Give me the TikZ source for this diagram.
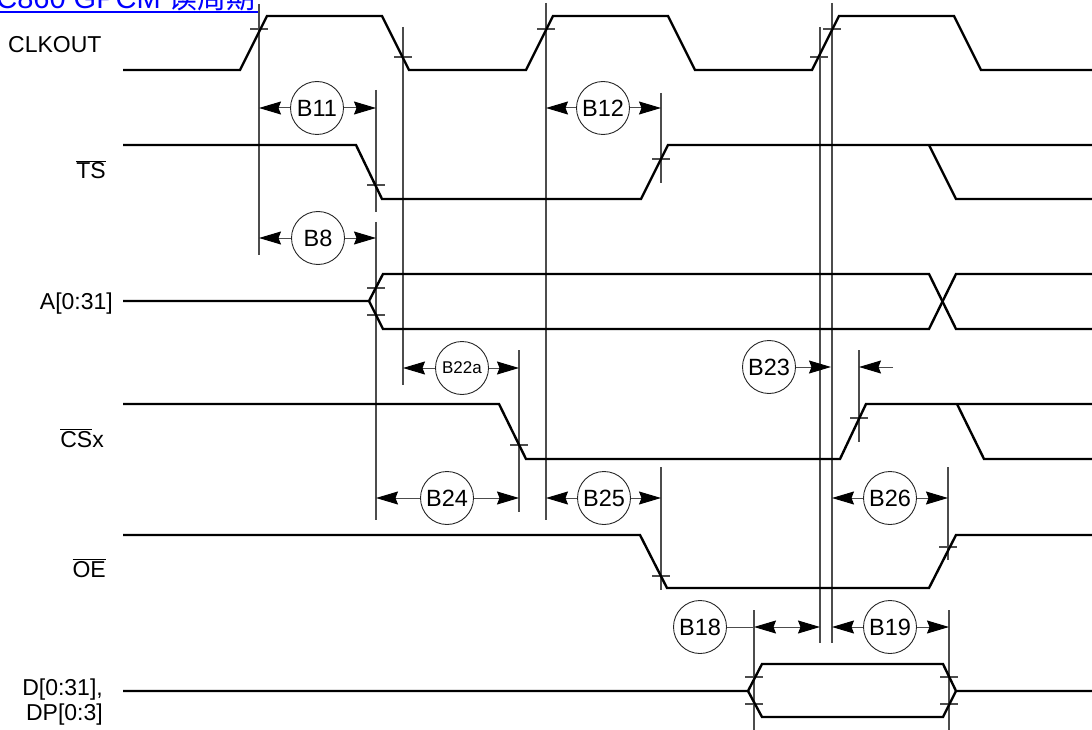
\documentclass[tikz,border=0pt]{standalone}
\usepackage{fontspec}
\setmainfont{Liberation Sans}
\newfontfamily\cjk{Noto Sans CJK SC}
\usetikzlibrary{arrows.meta}
\newcommand\ovl[1]{$\overline{\mbox{#1}}$}
\begin{document}
\begin{tikzpicture}[x=1pt,y=-1pt,
  sig/.style={line width=2.4pt, line join=miter},
  guide/.style={draw=black!70, line width=1.1pt},
  lab/.style={inner sep=0pt, font=\fontsize{23}{27}\selectfont},
  tag/.style={circle, draw=black!85, line width=0.9pt, minimum size=53pt, inner sep=0pt, font=\fontsize{23.5}{27}\selectfont},
  arr/.style={draw=black!70, line width=1pt, -{Stealth[length=22pt,width=13pt,inset=2.5pt,color=black]}},
  darr/.style={draw=black!70, line width=1pt, {Stealth[length=22pt,width=13pt,inset=2.5pt,color=black]}-{Stealth[length=22pt,width=13pt,inset=2.5pt,color=black]}},
  thin/.style={draw=black!70, line width=1pt},
]
\useasboundingbox (0,0) rectangle (1092,730);

% title (cut at the top)
\node[anchor=base east, inner sep=0pt, text=blue, font=\fontsize{29}{30}\selectfont] (title) at (256,9) {MPC860 GPCM {\cjk 读周期}};
\draw[blue, line width=2pt] (0,12) -- (258,12);

% signal labels
\node[lab, anchor=base west] (lclk) at (8,53) {CLKOUT};
\node[lab, anchor=base east] (lts) at (106,179) {\ovl{TS}};
\node[lab, anchor=base east] (la) at (113,309) {A[0:31]};
\node[lab, anchor=base east] (lcs) at (104,447) {\ovl{CS}x};
\node[lab, anchor=base east] (loe) at (106,577) {\ovl{OE}};
\node[lab, anchor=base east] (ld1) at (103,695) {D[0:31],};
\node[lab, anchor=base east] (ld2) at (103,720) {DP[0:3]};

% guide lines
\draw[guide] (259,4) -- (259,255);
\draw[guide] (376,90) -- (376,212);
\draw[guide] (376,222) -- (376,520);
\draw[guide] (403,27) -- (403,385);
\draw[guide] (546,3) -- (546,520);
\draw[guide] (661,93) -- (661,183);
\draw[guide] (519,350) -- (519,512);
\draw[guide] (661,467) -- (661,590);
\draw[guide] (820,27) -- (820,643);
\draw[guide] (832,3) -- (832,643);
\draw[guide] (859,350) -- (859,442);
\draw[guide] (948,467) -- (948,560);
\draw[guide] (949,610) -- (949,730);
\draw[guide] (754,610) -- (754,730);

% ticks
\foreach \x/\y in {259/29, 403/57, 546/29, 819/57, 832/29,
                   376/185, 661/159, 376/288, 376/315,
                   519/445, 859/418, 661/576, 948/547,
                   754/677, 754/704, 949/677, 949/704}
  \draw[guide] (\x-9,\y) -- (\x+9,\y);

% CLKOUT
\draw[sig] (123,70) -- (240,70) -- (267,16) -- (382,16) -- (409,70) -- (526,70) -- (553,16)
  -- (668,16) -- (695,70) -- (812,70) -- (839,16) -- (954,16) -- (981,70) -- (1092,70);
% TS
\draw[sig] (123,145) -- (356,145) -- (382,199) -- (641,199) -- (668,145) -- (1092,145);
\draw[sig] (929,145) -- (956,199) -- (1092,199);
% A
\draw[sig] (123,301) -- (369,301) -- (383,274) -- (929,274) -- (956,329) -- (1092,329);
\draw[sig] (369,301) -- (383,329) -- (929,329) -- (956,274) -- (1092,274);
% CSx
\draw[sig] (123,404) -- (499,404) -- (526,459) -- (840,459) -- (866,404) -- (1092,404);
\draw[sig] (957,404) -- (984,459) -- (1092,459);
% OE
\draw[sig] (123,535) -- (640,535) -- (667,588) -- (929,588) -- (956,535) -- (1092,535);
% D
\draw[sig] (123,691) -- (748,691) -- (762,664) -- (943,664) -- (956,691) -- (1092,691);
\draw[sig] (748,691) -- (762,717) -- (943,717) -- (956,691);

% timing tags
\node[tag] (b11) at (317,108) {B11};
\node[tag] (b8) at (318,238) {B8};
\node[tag] (b12) at (603,108) {B12};
\node[tag, font=\fontsize{17}{20}\selectfont] (b22a) at (462,368) {B22a};
\node[tag] (b23) at (769,367) {B23};
\node[tag] (b24) at (447,498) {B24};
\node[tag] (b25) at (604,498) {B25};
\node[tag] (b26) at (890,498) {B26};
\node[tag] (b18) at (700,627) {B18};
\node[tag] (b19) at (890,627) {B19};

\draw[arr] (b11.west) -- (259,108);
\draw[arr] (b11.east) -- (376,108);
\draw[arr] (b8.west) -- (259,238);
\draw[arr] (b8.east) -- (376,238);
\draw[arr] (b12.west) -- (546,108);
\draw[arr] (b12.east) -- (661,108);
\draw[arr] (b22a.west) -- (403,368);
\draw[arr] (b22a.east) -- (519,368);
\draw[arr] (b23.east) -- (831,367);
\coordinate (b23r) at (893,367);
\draw[arr] (b23r) -- (859,367);
\draw[arr] (b24.west) -- (376,498);
\draw[arr] (b24.east) -- (519,498);
\draw[arr] (b25.west) -- (546,498);
\draw[arr] (b25.east) -- (661,498);
\draw[arr] (b26.west) -- (832,498);
\draw[arr] (b26.east) -- (948,498);
\draw[thin] (b18.east) -- (754,627);
\draw[darr] (754,627) -- (820,627);
\draw[arr] (b19.west) -- (832,627);
\draw[arr] (b19.east) -- (949,627);
\end{tikzpicture}
\end{document}
